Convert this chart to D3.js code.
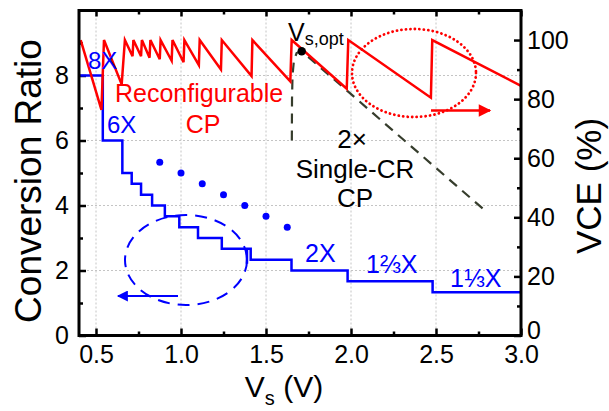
<!DOCTYPE html>
<html><head><meta charset="utf-8">
<script src="https://cdn.jsdelivr.net/npm/d3@7"></script>
<style>
body{margin:0;background:#fff}
text{font-family:"Liberation Sans",Arial,sans-serif}
</style>
</head><body>
<svg id="chart" width="609" height="411"></svg>
<script>
// Axis ticks
const xTicks = [0.5, 1.0, 1.5, 2.0, 2.5, 3.0];
const xMinor = [0.75, 1.25, 1.75, 2.25, 2.75];
const ratioTicks = [0, 2, 4, 6, 8];
const ratioMinor = [1, 3, 5, 7, 9];
const vceTicks = [0, 20, 40, 60, 80, 100];
const vceMinor = [10, 30, 50, 70, 90];

// Conversion ratio of the reconfigurable CP vs. source voltage: [Vs, ratio]
const ratioSteps = [
  [0.40, 8], [0.54, 8], [0.54, 6], [0.655, 6], [0.655, 5], [0.71, 5],
  [0.71, 4.67], [0.765, 4.67], [0.765, 4.33], [0.83, 4.33], [0.83, 4],
  [0.905, 4], [0.905, 3.67], [0.99, 3.67], [0.99, 3.33], [1.10, 3.33],
  [1.10, 3], [1.24, 3], [1.24, 2.67], [1.388, 2.67], [1.388, 2.21],
  [1.388, 2.67], [1.41, 2.67], [1.41, 2.33], [1.65, 2.33], [1.65, 2],
  [1.98, 2], [1.98, 1.67], [2.48, 1.67], [2.48, 1.33], [3.0, 1.33]
];
// Dotted continuation of the fine-grained ratios
const ratioDots = [
  [0.875, 5.33], [1.0, 5.0], [1.125, 4.67], [1.25, 4.33],
  [1.375, 4.0], [1.5, 3.67], [1.625, 3.33]
];
// Voltage conversion efficiency of the reconfigurable CP: [Vs, VCE %]
const vceReconfig = [
  [0.41, 100], [0.532, 76.4], [0.547, 100], [0.651, 85], [0.67, 100],
  [0.715, 94.5], [0.72, 100], [0.765, 94.5], [0.77, 100],
  [0.815, 94], [0.82, 100], [0.875, 93.5], [0.88, 100],
  [0.945, 93], [0.95, 100], [1.015, 92.5], [1.02, 100],
  [1.105, 91.5], [1.11, 100], [1.235, 90], [1.24, 100],
  [1.415, 87.8], [1.42, 100], [1.643, 86], [1.651, 100],
  [1.975, 83.5], [1.984, 100], [2.47, 80.5], [2.478, 100], [3.0, 84.5]
];
// VCE of a 2x single-conversion-ratio CP: [Vs, VCE %]
const vceSingle = [
  [1.652, 66], [1.653, 80], [1.656, 88], [1.664, 93], [1.68, 95.6],
  [1.71, 96.2], [2.8, 41.7]
];
const vOpt = [1.71, 96.2];

const svg = d3.select("#chart");
const L = 79, R = 521, T = 10.5, B = 335.5;
const x = d3.scaleLinear().domain([0.4, 3.0]).range([L, R]);
const yL = d3.scaleLinear().domain([0, 10]).range([B, T]);
const yR = d3.scaleLinear().domain([0, 110]).range([B, T]);

const RED = "#ff0000", BLUE = "#0000ff", DARK = "#363d2c";

// arrow heads
const defs = svg.append("defs");
[["arrRed", RED], ["arrBlue", BLUE]].forEach(([id, c]) => {
  defs.append("marker").attr("id", id).attr("viewBox", "0 0 10 10")
    .attr("refX", 9).attr("refY", 5).attr("markerWidth", 7).attr("markerHeight", 5)
    .attr("orient", "auto").attr("markerUnits", "strokeWidth")
    .append("path").attr("d", "M0,0 L10,5 L0,10 Z").attr("fill", c);
});

// grid
const grid = svg.append("g").attr("stroke", "#c4c4c4").attr("stroke-width", 1)
  .attr("stroke-dasharray", "2,2");
xTicks.filter(v => v < 3).forEach(v => grid.append("line")
  .attr("x1", x(v)).attr("x2", x(v)).attr("y1", T).attr("y2", B));
ratioTicks.filter(v => v > 0).forEach(v => grid.append("line")
  .attr("x1", L).attr("x2", R).attr("y1", yL(v)).attr("y2", yL(v)));

// axes
function styleAxis(g) {
  g.select(".domain").remove();
  g.selectAll(".tick line").attr("stroke", "#000").attr("stroke-width", 2.5);
  g.selectAll(".tick text").attr("fill", "#000").style("font-size", "25px");
}
svg.append("g").attr("transform", `translate(0,${B})`)
  .call(d3.axisBottom(x).tickValues(xTicks).tickSize(-7).tickPadding(10).tickFormat(d3.format(".1f")))
  .call(styleAxis);
svg.append("g").attr("transform", `translate(0,${B})`)
  .call(d3.axisBottom(x).tickValues(xMinor).tickSize(-4).tickFormat(""))
  .call(styleAxis);
svg.append("g").attr("transform", `translate(0,${T})`)
  .call(d3.axisTop(x).tickValues(xTicks).tickSize(-6).tickFormat(""))
  .call(styleAxis);
svg.append("g").attr("transform", `translate(0,${T})`)
  .call(d3.axisTop(x).tickValues(xMinor).tickSize(-4).tickFormat(""))
  .call(styleAxis);
svg.append("g").attr("transform", `translate(${L},0)`)
  .call(d3.axisLeft(yL).tickValues(ratioTicks).tickSize(-7).tickPadding(10).tickFormat(d3.format("d")))
  .call(styleAxis);
svg.append("g").attr("transform", `translate(${L},0)`)
  .call(d3.axisLeft(yL).tickValues(ratioMinor).tickSize(-4).tickFormat(""))
  .call(styleAxis);
svg.append("g").attr("transform", `translate(${R},0)`)
  .call(d3.axisRight(yR).tickValues(vceTicks).tickSize(-7).tickPadding(6).tickFormat(d3.format("d")))
  .call(styleAxis)
  .selectAll(".tick text").filter(d => d === 0).attr("dy", "0.1em");
svg.append("g").attr("transform", `translate(${R},0)`)
  .call(d3.axisRight(yR).tickValues(vceMinor).tickSize(-4).tickFormat(""))
  .call(styleAxis);

// data lines
const lineL = d3.line().x(d => x(d[0])).y(d => yL(d[1]));
const lineR = d3.line().x(d => x(d[0])).y(d => yR(d[1]));

svg.append("path").datum(vceSingle).attr("d", lineR).attr("fill", "none")
  .attr("stroke", DARK).attr("stroke-width", 2.2).attr("stroke-dasharray", "10,7");
svg.append("path").datum(ratioSteps).attr("d", lineL).attr("fill", "none")
  .attr("stroke", BLUE).attr("stroke-width", 2.5);
svg.append("path").datum(vceReconfig).attr("d", lineR).attr("fill", "none")
  .attr("stroke", RED).attr("stroke-width", 2.5).attr("stroke-linejoin", "miter");
svg.selectAll(".rdot").data(ratioDots).join("circle")
  .attr("cx", d => x(d[0])).attr("cy", d => yL(d[1])).attr("r", 3.5).attr("fill", BLUE);
svg.append("circle").attr("cx", x(vOpt[0])).attr("cy", yR(vOpt[1])).attr("r", 4.2).attr("fill", "#000");

// axis-ownership callouts
svg.append("ellipse").attr("cx", 414).attr("cy", 73).attr("rx", 62).attr("ry", 44)
  .attr("fill", "none").attr("stroke", RED).attr("stroke-width", 2.8)
  .attr("stroke-dasharray", "0.1,4.4").attr("stroke-linecap", "round");
svg.append("line").attr("x1", 431).attr("x2", 490).attr("y1", 110.5).attr("y2", 110.5)
  .attr("stroke", RED).attr("stroke-width", 2.5).attr("marker-end", "url(#arrRed)");
svg.append("ellipse").attr("cx", 186).attr("cy", 260).attr("rx", 61).attr("ry", 45)
  .attr("fill", "none").attr("stroke", BLUE).attr("stroke-width", 2)
  .attr("stroke-dasharray", "12,8");
svg.append("line").attr("x1", 178).attr("x2", 118).attr("y1", 296).attr("y2", 296)
  .attr("stroke", BLUE).attr("stroke-width", 2.2).attr("marker-end", "url(#arrBlue)");

// frame
svg.append("rect").attr("x", L).attr("y", T).attr("width", R - L).attr("height", B - T)
  .attr("fill", "none").attr("stroke", "#000").attr("stroke-width", 3);

// annotations
function label(txt, xx, yy, color, size, anchor) {
  return svg.append("text").attr("x", xx).attr("y", yy).attr("fill", color)
    .attr("text-anchor", anchor || "start").style("font-size", size + "px").text(txt);
}
label("8X", 88, 69, BLUE, 24);
label("6X", 107, 133, BLUE, 24);
label("2X", 305, 262, BLUE, 25);
label("1⅔X", 366, 273, BLUE, 25);
label("1⅓X", 450, 287, BLUE, 25);
label("Reconfigurable", 115, 102, RED, 25);
label("CP", 203, 133, RED, 25, "middle");
label("2×", 352, 148, "#000", 26, "middle");
label("Single-CR", 355, 178, "#000", 26, "middle");
label("CP", 355, 207, "#000", 26, "middle");
const vo = svg.append("text").attr("x", 288).attr("y", 41).attr("fill", "#000").style("font-size", "25px");
vo.append("tspan").text("V");
vo.append("tspan").attr("dy", 4).style("font-size", "18px").text("s,opt");

// axis titles
svg.append("text").attr("transform", `translate(41,${(T + B) / 2 + 8}) rotate(-90)`)
  .attr("text-anchor", "middle").style("font-size", "37px").attr("fill", "#000")
  .text("Conversion Ratio");
svg.append("text").attr("transform", `translate(601,${(T + B) / 2 + 13}) rotate(-90)`)
  .attr("text-anchor", "middle").style("font-size", "35px").attr("fill", "#000")
  .text("VCE (%)");
const xt = svg.append("text").attr("x", 284).attr("y", 397).attr("text-anchor", "middle")
  .style("font-size", "30px").attr("fill", "#000");
xt.append("tspan").text("V");
xt.append("tspan").attr("dy", 8).style("font-size", "20px").text("s");
xt.append("tspan").attr("dy", -8).text(" (V)");
</script>
</body></html>
